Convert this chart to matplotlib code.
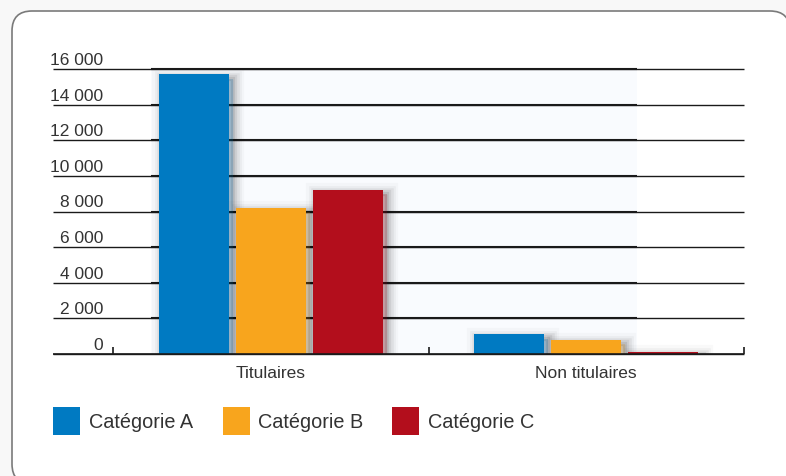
import matplotlib
matplotlib.use("Agg")
import matplotlib.pyplot as plt
import matplotlib.patheffects as pe
from matplotlib.patches import Rectangle, FancyBboxPatch

# Data
groups = ["Titulaires", "Non titulaires"]
series = ["Catégorie A", "Catégorie B", "Catégorie C"]
values_a = [15700, 1100]
values_b = [8200, 800]
values_c = [9200, 100]
colors = ["#007ac2", "#f8a51d", "#b30e1c"]
yticks = [0, 2000, 4000, 6000, 8000, 10000, 12000, 14000, 16000]
ytick_labels = ["0", "2 000", "4 000", "6 000", "8 000", "10 000", "12 000", "14 000", "16 000"]

plt.rcParams["font.family"] = ["Liberation Sans", "DejaVu Sans"]
text_color = "#333333"

W, H = 786, 477
fig = plt.figure(figsize=(W / 100, H / 100), dpi=100)
fig.patch.set_facecolor("#f8f8f8")

# Rounded frame around the chart
frame = FancyBboxPatch((0.12, -0.08), 7.90 - 0.12, 4.65 + 0.08,
                       boxstyle="round,pad=0,rounding_size=0.2",
                       transform=fig.dpi_scale_trans, facecolor="white",
                       edgecolor="#7a7a7a", linewidth=1.2, zorder=0)
fig.add_artist(frame)

ax = fig.add_axes([53 / W, (H - 355) / H, 691 / W, 285 / H])
ax.set_facecolor("none")
for s in ax.spines.values():
    s.set_visible(False)

xmin = -0.5 - 60 * 2 / 631
ax.set_xlim(xmin, 1.5)
ax.set_ylim(0, 16000)
ax.set_xticks([])
ax.set_yticks([])

# Pale backdrop behind the bars
ax.add_patch(Rectangle((-0.38, 0), 1.161 + 0.38, 16000, facecolor="#f9fbfe",
                       edgecolor="none", zorder=0.5))

# Horizontal rules
for v in yticks:
    ax.plot([xmin, 1.5], [v, v], color="#1a1a1a", lw=1.0, zorder=1,
            solid_capstyle="butt", clip_on=False)
    if v > 0:
        ax.plot([-0.38, 1.161], [v, v], color="#1a1a1a", lw=1.5, zorder=1,
                solid_capstyle="butt", clip_on=False)

# Value labels sitting on top of each rule
for v, lab in zip(yticks, ytick_labels):
    ax.annotate(lab, xy=(-0.532, v), xytext=(0, 2), textcoords="offset pixels",
                ha="right", va="bottom", fontsize=12.5, color=text_color,
                annotation_clip=False)

# Small upward ticks between groups
for x in [-0.5, 0.5, 1.5]:
    ax.plot([x, x], [0, 380], color="#1a1a1a", lw=1.2, zorder=3,
            solid_capstyle="butt", clip_on=False)

# Soft shadow built from stacked strokes
shadow = []
for w, a in [(16, 0.025), (12, 0.035), (9, 0.05), (6, 0.07), (3, 0.09)]:
    shadow.append(pe.Stroke(offset=(3, -3), linewidth=w, foreground="black",
                            alpha=a))
shadow.append(pe.Normal())

bar_w = 70 / 315.5
step = 77 / 315.5
xs = range(len(groups))
for i, (vals, col) in enumerate(zip([values_a, values_b, values_c], colors)):
    pos = [x + (i - 1) * step for x in xs]
    bars = ax.bar(pos, vals, width=bar_w, color=col, edgecolor="none",
                  zorder=2, label=series[i])
    for b in bars:
        b.set_path_effects(shadow)

# Baseline
ax.plot([xmin, 1.5], [0, 0], color="#1a1a1a", lw=1.2, zorder=3,
        solid_capstyle="butt", clip_on=False)

# Group labels
for x, g in zip(xs, groups):
    ax.annotate(g, xy=(x, 0), xytext=(0, -19), textcoords="offset pixels",
                ha="center", va="center", fontsize=12.5, color=text_color,
                annotation_clip=False)

# Legend
leg_sq_x = [53, 223, 392]
leg_txt_x = [89, 258, 428]
for sx, tx, col, name in zip(leg_sq_x, leg_txt_x, colors, series):
    fig.add_artist(Rectangle((sx / W, (H - 436) / H), 27 / W, 28 / H,
                             transform=fig.transFigure, facecolor=col,
                             edgecolor="none"))
    fig.text(tx / W, (H - 423) / H, name, ha="left", va="center",
             fontsize=14.3, color=text_color)

fig.savefig("out.png", dpi=100, facecolor=fig.get_facecolor())
